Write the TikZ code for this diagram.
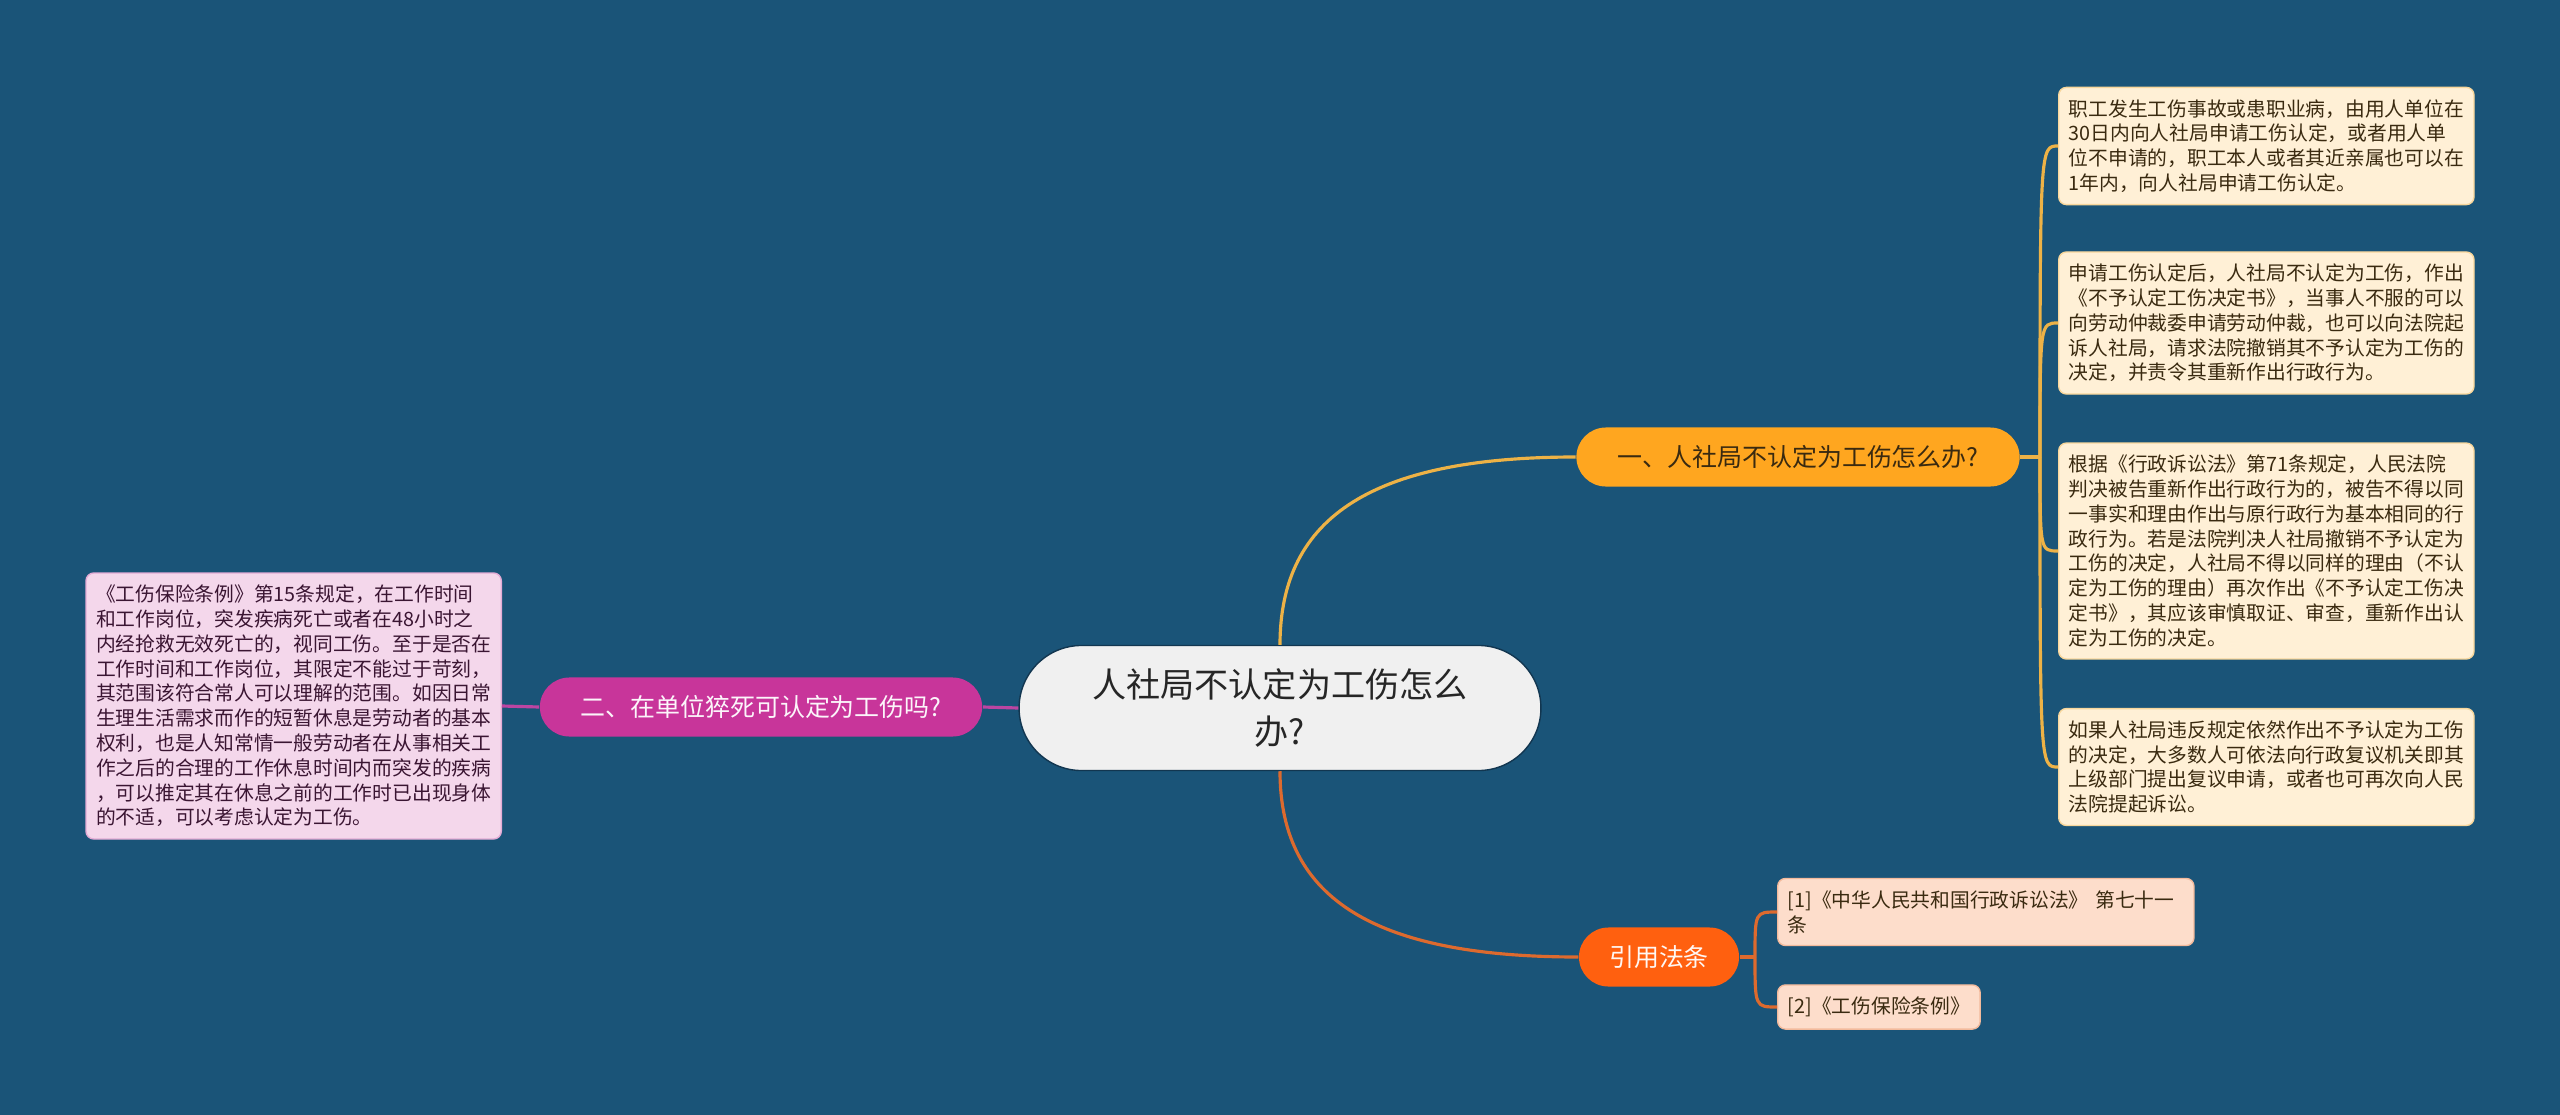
\documentclass[tikz,border=0pt]{standalone}
\usepackage{fontspec}
\setmainfont{Noto Sans CJK SC}
\usetikzlibrary{positioning,calc,shapes.misc}
\definecolor{mapbg}{HTML}{1A5478}
\definecolor{rootfill}{HTML}{F0F0F0}
\definecolor{rootline}{HTML}{123650}
\definecolor{amber}{HTML}{FFA61F}
\definecolor{amberline}{HTML}{EDB246}
\definecolor{magenta}{HTML}{C8359A}
\definecolor{magline}{HTML}{BC45A2}
\definecolor{tangerine}{HTML}{FF600F}
\definecolor{tanline}{HTML}{DD6A2E}
\definecolor{cremefill}{HTML}{FFF0D6}
\definecolor{pinkfill}{HTML}{F4D7EB}
\definecolor{peachfill}{HTML}{FDDDCB}
\definecolor{inkbrown}{HTML}{3A2A10}
\definecolor{inkplum}{HTML}{3A1532}
\tikzset{
  rootbox/.style={rounded rectangle, draw=rootline, line width=0.4pt, fill=rootfill,
                  minimum width=5.45cm, minimum height=1.25cm, align=center,
                  text=black!85, font=\fontsize{9.7}{13.6}\selectfont},
  branchbox/.style={rounded rectangle, minimum height=0.59cm, inner xsep=0pt,
                    font=\fontsize{7.1}{8.5}\selectfont},
  leafbox/.style={rounded corners=2.2pt, fill=cremefill, draw=amberline!40!cremefill,
                  line width=0.4pt, align=left, text=inkbrown, inner xsep=0.1cm,
                  inner ysep=0.12cm, font=\fontsize{5.62}{7.05}\selectfont},
  yline/.style={draw=amberline, line width=0.9pt},
  mline/.style={draw=magline, line width=0.9pt},
  oline/.style={draw=tanline, line width=0.9pt}}
\begin{document}
\begin{tikzpicture}[x=0.01cm,y=-0.01cm]
  \useasboundingbox (0,0) rectangle (2560,1115);
  \fill[mapbg] (0,0) rectangle (2560,1115);
  \node[rootbox] (root) at (1280,708) {人社局不认定为工伤怎么\\办?};
  \node[branchbox, fill=amber, text=inkbrown, minimum width=4.43cm] (q1) at (1798,457)
    {一、人社局不认定为工伤怎么办?};
  \node[branchbox, fill=magenta, text=white!95!magenta, minimum width=4.42cm] (q2) at (761,707)
    {二、在单位猝死可认定为工伤吗?};
  \node[branchbox, fill=tangerine, text=white!95!tangerine, minimum width=1.6cm] (refs) at (1659,957)
    {引用法条};
  % answers to the first question
  \node[leafbox, anchor=west] (a1) at (2058,146)
    {职工发生工伤事故或患职业病，由用人单位在\\30日内向人社局申请工伤认定，或者用人单\\位不申请的，职工本人或者其近亲属也可以在\\1年内，向人社局申请工伤认定。};
  \node[leafbox, anchor=west] (a2) at (2058,323)
    {申请工伤认定后，人社局不认定为工伤，作出\\《不予认定工伤决定书》，当事人不服的可以\\向劳动仲裁委申请劳动仲裁，也可以向法院起\\诉人社局，请求法院撤销其不予认定为工伤的\\决定，并责令其重新作出行政行为。};
  \node[leafbox, anchor=west] (a3) at (2058,551)
    {根据《行政诉讼法》第71条规定，人民法院\\判决被告重新作出行政行为的，被告不得以同\\一事实和理由作出与原行政行为基本相同的行\\政行为。若是法院判决人社局撤销不予认定为\\工伤的决定，人社局不得以同样的理由（不认\\定为工伤的理由）再次作出《不予认定工伤决\\定书》，其应该审慎取证、审查，重新作出认\\定为工伤的决定。};
  \node[leafbox, anchor=west] (a4) at (2058,767)
    {如果人社局违反规定依然作出不予认定为工伤\\的决定，大多数人可依法向行政复议机关即其\\上级部门提出复议申请，或者也可再次向人民\\法院提起诉讼。};
  % answer to the second question
  \node[leafbox, anchor=east, fill=pinkfill, draw=magline!30!pinkfill, text=inkplum] (b1) at (502,706)
    {《工伤保险条例》第15条规定，在工作时间\\和工作岗位，突发疾病死亡或者在48小时之\\内经抢救无效死亡的，视同工伤。至于是否在\\工作时间和工作岗位，其限定不能过于苛刻，\\其范围该符合常人可以理解的范围。如因日常\\生理生活需求而作的短暂休息是劳动者的基本\\权利，也是人知常情一般劳动者在从事相关工\\作之后的合理的工作休息时间内而突发的疾病\\，可以推定其在休息之前的工作时已出现身体\\的不适，可以考虑认定为工伤。};
  % cited laws
  \node[leafbox, anchor=west, fill=peachfill, draw=tanline!30!peachfill, text width=3.96cm] (c1) at (1777,912)
    {[1]《中华人民共和国行政诉讼法》 第七十一\\条};
  \node[leafbox, anchor=west, fill=peachfill, draw=tanline!30!peachfill] (c2) at (1777,1007)
    {[2]《工伤保险条例》};
  \coordinate (j1) at (2040,457);
  \coordinate (j3) at (1755,957);
  \draw[yline] (root.north) .. controls +(0,-130) and +(-200,0) .. (q1.west);
  \draw[oline] (root.south) .. controls +(0,130) and +(-200,0) .. (refs.west);
  \draw[mline] (root.west) -- (q2.east);
  \draw[mline] (q2.west) -- (b1.east);
  \draw[yline] (q1.east) -- (j1);
  \foreach \leaf in {a1,a2,a3,a4}
    \draw[yline] (j1) .. controls (j1 |- \leaf.west) .. (\leaf.west);
  \draw[oline] (refs.east) -- (j3);
  \foreach \leaf in {c1,c2}
    \draw[oline] (j3) .. controls (j3 |- \leaf.west) .. (\leaf.west);
\end{tikzpicture}
\end{document}
